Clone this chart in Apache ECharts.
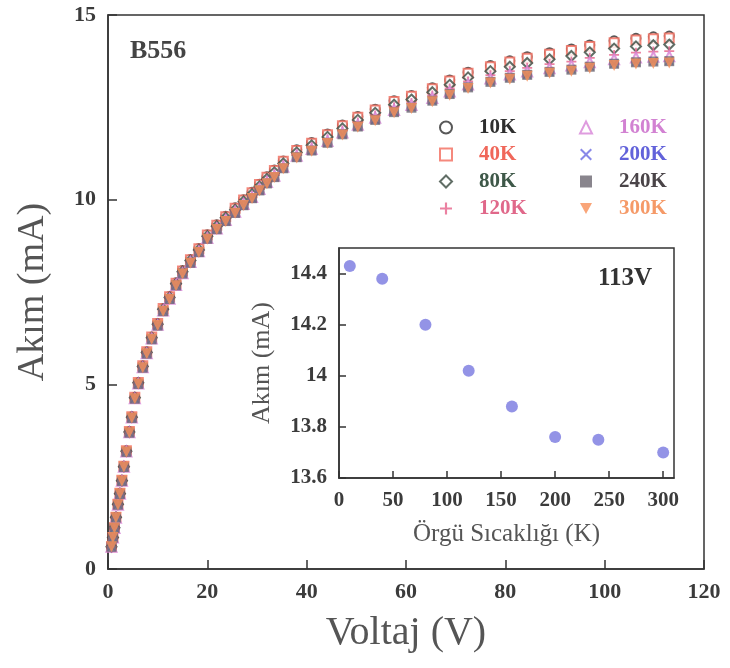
<!DOCTYPE html>
<html><head><meta charset="utf-8">
<script src="https://cdn.jsdelivr.net/npm/echarts@6/dist/echarts.min.js"></script>
<style>html,body{margin:0;padding:0;background:#fff}#c{width:730px;height:668px}</style>
</head><body><div id="c"></div>
<script>
const voltage = [0.7,1.0,1.3,1.6,2.0,2.4,2.8,3.2,3.7,4.3,4.8,5.4,6.1,7.0,7.8,8.8,10.0,11.1,12.4,13.7,15.0,16.6,18.3,20.0,21.9,23.7,25.6,27.3,29.0,30.5,32.0,33.5,35.3,38.0,41.0,44.2,47.2,50.3,53.8,57.6,61.1,65.3,68.8,72.5,77.0,80.9,84.4,88.9,93.3,97.0,101.9,106.3,109.8,113.0];
const i10K = [0.60,0.85,1.12,1.40,1.75,2.05,2.40,2.78,3.20,3.72,4.12,4.65,5.05,5.50,5.88,6.28,6.65,7.05,7.38,7.75,8.08,8.38,8.68,9.05,9.32,9.55,9.78,10.00,10.20,10.42,10.62,10.80,11.05,11.35,11.55,11.78,12.02,12.25,12.45,12.68,12.82,13.03,13.24,13.45,13.63,13.76,13.87,13.98,14.08,14.19,14.30,14.37,14.41,14.43];
const i40K = [0.60,0.85,1.12,1.40,1.75,2.05,2.40,2.78,3.20,3.72,4.12,4.65,5.05,5.50,5.88,6.28,6.65,7.05,7.37,7.74,8.07,8.37,8.67,9.04,9.31,9.54,9.77,9.99,10.19,10.41,10.61,10.79,11.04,11.33,11.53,11.76,12.00,12.23,12.43,12.66,12.80,13.00,13.21,13.42,13.60,13.73,13.83,13.94,14.04,14.15,14.25,14.32,14.36,14.38];
const i80K = [0.60,0.85,1.12,1.40,1.75,2.04,2.39,2.77,3.19,3.71,4.11,4.64,5.04,5.48,5.86,6.26,6.63,7.03,7.35,7.72,8.05,8.35,8.64,9.01,9.28,9.51,9.73,9.95,10.15,10.36,10.56,10.74,10.98,11.28,11.47,11.70,11.93,12.16,12.35,12.57,12.71,12.91,13.11,13.31,13.48,13.60,13.70,13.80,13.89,13.99,14.09,14.15,14.18,14.20];
const i120K = [0.60,0.85,1.11,1.39,1.74,2.04,2.39,2.77,3.18,3.70,4.10,4.63,5.03,5.47,5.85,6.25,6.62,7.01,7.34,7.71,8.03,8.32,8.62,8.98,9.25,9.47,9.70,9.91,10.10,10.32,10.51,10.69,10.93,11.23,11.42,11.63,11.87,12.09,12.28,12.50,12.62,12.82,13.01,13.20,13.37,13.48,13.57,13.67,13.74,13.84,13.92,13.98,14.01,14.02];
const i160K = [0.60,0.85,1.11,1.39,1.74,2.04,2.39,2.77,3.18,3.70,4.10,4.62,5.02,5.46,5.84,6.24,6.61,7.00,7.32,7.69,8.01,8.31,8.60,8.96,9.22,9.45,9.67,9.88,10.07,10.29,10.48,10.65,10.89,11.19,11.37,11.59,11.82,12.03,12.22,12.43,12.56,12.75,12.93,13.12,13.28,13.39,13.47,13.56,13.63,13.72,13.80,13.85,13.87,13.88];
const i200K = [0.60,0.85,1.11,1.39,1.74,2.03,2.38,2.76,3.17,3.69,4.09,4.61,5.01,5.45,5.83,6.22,6.59,6.99,7.31,7.68,8.00,8.29,8.58,8.94,9.20,9.42,9.64,9.85,10.04,10.25,10.45,10.62,10.86,11.15,11.33,11.54,11.77,11.98,12.16,12.38,12.50,12.68,12.86,13.05,13.20,13.30,13.38,13.46,13.53,13.61,13.68,13.73,13.75,13.76];
const i240K = [0.60,0.85,1.11,1.39,1.74,2.03,2.38,2.76,3.17,3.69,4.09,4.61,5.01,5.45,5.83,6.22,6.59,6.98,7.31,7.68,8.00,8.29,8.58,8.94,9.20,9.42,9.64,9.85,10.04,10.25,10.44,10.61,10.85,11.15,11.33,11.54,11.77,11.98,12.16,12.37,12.49,12.68,12.86,13.04,13.19,13.30,13.38,13.46,13.52,13.60,13.68,13.72,13.74,13.75];
const i300K = [0.60,0.85,1.11,1.39,1.74,2.03,2.38,2.76,3.17,3.69,4.09,4.61,5.01,5.45,5.83,6.22,6.59,6.98,7.30,7.67,7.99,8.28,8.57,8.93,9.19,9.41,9.63,9.84,10.03,10.24,10.43,10.60,10.84,11.13,11.31,11.52,11.75,11.96,12.14,12.35,12.47,12.65,12.83,13.01,13.16,13.26,13.34,13.42,13.48,13.56,13.63,13.67,13.69,13.70];

const seriesNames = ['10K','40K','80K','120K','160K','200K','240K','300K'];
const seriesValues = [i10K,i40K,i80K,i120K,i160K,i200K,i240K,i300K];

const insetTemps = [10,40,80,120,160,200,240,300];
const insetCurrents = [14.43,14.38,14.20,14.02,13.88,13.76,13.75,13.70];

const mainXTicks = {min:0,max:120,interval:20};
const mainYTicks = {min:0,max:15,interval:5};
const insetXTicks = {min:0,max:310,interval:50};
const insetYTicks = {min:13.6,max:14.5,interval:0.2};

const PLUS = 'path://M0,4.1H10V5.9H0Z M4.1,0H5.9V10H4.1Z';
const CROSS = 'path://M0,1.2L1.2,0L5,3.8L8.8,0L10,1.2L6.2,5L10,8.8L8.8,10L5,6.2L1.2,10L0,8.8L3.8,5Z';
const DOWN_TRI = 'path://M0,0L10,0L5,9Z';
const styles = [
  {symbol:'emptyCircle', color:'#2e2e2e', text:'#2e2e2e', size:9},
  {symbol:'emptyRect', color:'#f26c5c', text:'#f0675a', size:9},
  {symbol:'emptyDiamond', color:'#3a4a40', text:'#3e5848', size:10},
  {symbol:PLUS, color:'#e6628a', text:'#e0688a', size:10},
  {symbol:'emptyTriangle', color:'#d783d7', text:'#d282d2', size:10},
  {symbol:CROSS, color:'#6a6ae2', text:'#6262da', size:9},
  {symbol:'rect', color:'#6c6670', text:'#4a4448', size:10},
  {symbol:DOWN_TRI, color:'#f78f57', text:'#f59a68', size:11}
];

const serif = '"Liberation Serif","DejaVu Serif",serif';
const axisCol = '#333';

const mainSeries = seriesNames.map((n,k)=>({
  name:n, type:'scatter', xAxisIndex:0, yAxisIndex:0,
  symbol:styles[k].symbol, symbolSize:styles[k].size,
  itemStyle:{color:styles[k].color, borderWidth:1.5}, z:2+k,
  data: voltage.map((v,i)=>[v, seriesValues[k][i]])
}));

function legendCol(names, left, idxs){
  return {
    orient:'vertical', left:left, top:117, padding:0,
    itemWidth:12, itemHeight:12, itemGap:6,
    data: names.map((n,j)=>({name:n, icon:styles[idxs[j]].symbol, textStyle:{color:styles[idxs[j]].text}})),
    textStyle:{fontFamily:serif, fontSize:21, fontWeight:'bold', padding:[0,0,0,22]}
  };
}

const option = {
  animation:false,
  backgroundColor:'#fff',
  legend:[legendCol(['10K','40K','80K','120K'],439,[0,1,2,3]), legendCol(['160K','200K','240K','300K'],579,[4,5,6,7])],
  grid:[
    {left:108, top:15, right:26, bottom:99, show:true, borderColor:axisCol, borderWidth:1.5},
    {left:339, top:248, width:335, height:230, show:true, borderColor:axisCol, borderWidth:1.5, backgroundColor:'#fff', z:10}
  ],
  xAxis:[
    {type:'value', gridIndex:0, min:mainXTicks.min, max:mainXTicks.max, interval:mainXTicks.interval,
     name:'Voltaj (V)', nameLocation:'middle', nameGap:44,
     nameTextStyle:{fontFamily:serif, fontSize:40, color:'#555'},
     axisLine:{lineStyle:{color:axisCol, width:1.5}},
     axisTick:{inside:true, length:9, lineStyle:{color:axisCol, width:1.5}},
     splitLine:{show:false},
     axisLabel:{fontFamily:serif, fontSize:22, fontWeight:'bold', color:'#3b3b3b', margin:12}},
    {type:'value', gridIndex:1, min:insetXTicks.min, max:insetXTicks.max, interval:insetXTicks.interval,
     name:'Örgü Sıcaklığı (K)', nameLocation:'middle', nameGap:44,
     nameTextStyle:{fontFamily:serif, fontSize:25, color:'#555'},
     axisLine:{lineStyle:{color:axisCol, width:1.5}},
     axisTick:{inside:true, length:7, lineStyle:{color:axisCol, width:1.5}},
     splitLine:{show:false},
     axisLabel:{fontFamily:serif, fontSize:21, fontWeight:'bold', color:'#3b3b3b', margin:12, showMaxLabel:false},
     z:10}
  ],
  yAxis:[
    {type:'value', gridIndex:0, min:mainYTicks.min, max:mainYTicks.max, interval:mainYTicks.interval,
     name:'Akım (mA)', nameLocation:'middle', nameGap:56,
     nameTextStyle:{fontFamily:serif, fontSize:38, color:'#555'},
     axisLine:{lineStyle:{color:axisCol, width:1.5}},
     axisTick:{inside:true, length:9, lineStyle:{color:axisCol, width:1.5}},
     splitLine:{show:false},
     axisLabel:{fontFamily:serif, fontSize:22, fontWeight:'bold', color:'#3b3b3b', margin:12}},
    {type:'value', gridIndex:1, min:insetYTicks.min, max:insetYTicks.max, interval:insetYTicks.interval,
     name:'Akım (mA)', nameLocation:'middle', nameGap:64,
     nameTextStyle:{fontFamily:serif, fontSize:26, color:'#555'},
     axisLine:{lineStyle:{color:axisCol, width:1.5}},
     axisTick:{inside:true, length:7, lineStyle:{color:axisCol, width:1.5}},
     splitLine:{show:false},
     axisLabel:{fontFamily:serif, fontSize:21, fontWeight:'bold', color:'#3b3b3b', margin:12, showMaxLabel:false},
     z:10}
  ],
  graphic:[
    {type:'text', left:130, top:38, style:{text:'B556', font:'bold 26px '+serif, fill:'#444'}},
    {type:'text', left:598, top:266, z:20, style:{text:'113V', font:'bold 25px '+serif, fill:'#333'}}
  ],
  series: mainSeries.concat([{
    name:'inset', type:'scatter', xAxisIndex:1, yAxisIndex:1, symbol:'circle', symbolSize:12, z:20,
    itemStyle:{color:'#7878e0'},
    data: insetTemps.map((t,i)=>[t, insetCurrents[i]])
  }])
};
echarts.init(document.getElementById('c')).setOption(option);
</script></body></html>
